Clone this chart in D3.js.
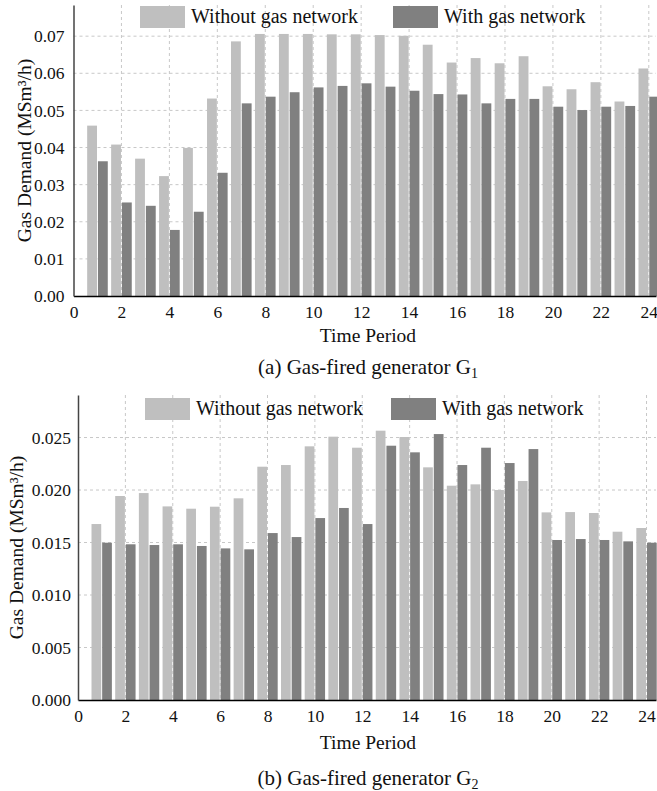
<!DOCTYPE html>
<html>
<head>
<meta charset="utf-8">
<script src="https://cdn.jsdelivr.net/npm/d3@7"></script>
<style>
  body { margin: 0; background: #fff; }
  svg { display: block; font-family: "Liberation Serif", "Times New Roman", serif; }
</style>
</head>
<body>
<div id="chart-container"></div>
<script>
// Data
const periods = [1, 2, 3, 4, 5, 6, 7, 8, 9, 10, 11, 12, 13, 14, 15, 16, 17, 18, 19, 20, 21, 22, 23, 24];
const seriesNames = ["Without gas network", "With gas network"];

const g1Without = [0.0459, 0.0408, 0.0370, 0.0323, 0.0399, 0.0532, 0.0686, 0.0706, 0.0706, 0.0706, 0.0705, 0.0705,
                   0.0703, 0.0701, 0.0677, 0.0629, 0.0641, 0.0627, 0.0646, 0.0565, 0.0557, 0.0576, 0.0524, 0.0613];
const g1With    = [0.0363, 0.0252, 0.0243, 0.0178, 0.0227, 0.0332, 0.0519, 0.0537, 0.0549, 0.0562, 0.0566, 0.0573,
                   0.0564, 0.0553, 0.0544, 0.0543, 0.0519, 0.0531, 0.0531, 0.0510, 0.0501, 0.0510, 0.0512, 0.0537];

const g2Without = [0.01676, 0.01943, 0.01971, 0.01844, 0.01822, 0.01841, 0.01921, 0.02222, 0.02238, 0.02416, 0.02508, 0.02403,
                   0.02565, 0.02505, 0.02216, 0.02041, 0.02054, 0.02000, 0.02086, 0.01787, 0.01790, 0.01781, 0.01603, 0.01638];
const g2With    = [0.01498, 0.01483, 0.01476, 0.01483, 0.01467, 0.01444, 0.01435, 0.01590, 0.01552, 0.01733, 0.01829, 0.01676,
                   0.02422, 0.02359, 0.02533, 0.02238, 0.02403, 0.02257, 0.02390, 0.01524, 0.01533, 0.01524, 0.01511, 0.01498];

const xTicks = [0, 2, 4, 6, 8, 10, 12, 14, 16, 18, 20, 22, 24];
const g1YTicks = [0, 0.01, 0.02, 0.03, 0.04, 0.05, 0.06, 0.07];
const g2YTicks = [0, 0.005, 0.010, 0.015, 0.020, 0.025];

const colors = ["#bfbfbf", "#808080"];
const serif = '"Liberation Serif", "Times New Roman", serif';

const svg = d3.select("#chart-container")
              .append("svg")
              .attr("width", 657)
              .attr("height", 791);

// draws one panel
function drawPanel(opts) {
    const { left, right, top, bottom, xMax, yMax, yTicks, yFormat, without, withNet,
            tickPad, titleX, titleY, legendY, legend1X, legend2X, captionY, label, sub } = opts;

    const x = d3.scaleLinear().domain([0, xMax]).range([left, right]);
    const y = d3.scaleLinear().domain([0, yMax]).range([bottom, top]);

    const g = svg.append("g");

    // grid
    g.selectAll(".hgrid")
     .data(yTicks.filter(d => d > 0))
     .join("line")
     .attr("x1", left).attr("x2", right)
     .attr("y1", d => y(d)).attr("y2", d => y(d))
     .attr("stroke", "#c8c8c8").attr("stroke-width", 1)
     .attr("stroke-dasharray", "3,3");

    g.selectAll(".vgrid")
     .data(xTicks.filter(d => d > 0))
     .join("line")
     .attr("x1", d => x(d)).attr("x2", d => x(d))
     .attr("y1", top).attr("y2", bottom)
     .attr("stroke", "#c8c8c8").attr("stroke-width", 1)
     .attr("stroke-dasharray", "3,3");

    // bars
    const bw = 0.41;
    g.selectAll(".bar-without")
     .data(periods)
     .join("rect")
     .attr("x", (d) => x(d - 0.02 - bw))
     .attr("width", x(bw) - x(0))
     .attr("y", (d, i) => y(without[i]))
     .attr("height", (d, i) => y(0) - y(without[i]))
     .attr("fill", colors[0]);

    g.selectAll(".bar-with")
     .data(periods)
     .join("rect")
     .attr("x", (d) => x(d + 0.02))
     .attr("width", x(bw) - x(0))
     .attr("y", (d, i) => y(withNet[i]))
     .attr("height", (d, i) => y(0) - y(withNet[i]))
     .attr("fill", colors[1]);

    // x axis
    const xAxis = g.append("g")
       .attr("transform", `translate(0, ${bottom})`)
       .call(d3.axisBottom(x).tickValues(xTicks).tickSize(0).tickPadding(10));
    xAxis.attr("font-family", serif).attr("font-size", 17.5);
    xAxis.select(".domain").attr("stroke", "#000").attr("stroke-width", 1.5);
    xAxis.selectAll("text").attr("fill", "#111");

    // y axis
    const yAxis = g.append("g")
       .attr("transform", `translate(${left}, 0)`)
       .call(d3.axisLeft(y).tickValues(yTicks).tickFormat(d3.format(yFormat)).tickSize(0).tickPadding(tickPad));
    yAxis.attr("font-family", serif).attr("font-size", 17.5);
    yAxis.select(".domain").attr("stroke", "#444").attr("stroke-width", 1.5);
    yAxis.selectAll("text").attr("fill", "#111");

    // axis titles
    g.append("text")
     .attr("x", 368)
     .attr("y", titleY)
     .attr("text-anchor", "middle")
     .style("font-size", "19.5px")
     .attr("fill", "#111")
     .text("Time Period");

    g.append("text")
     .attr("transform", `translate(${titleX}, ${(top + bottom) / 2}) rotate(-90)`)
     .attr("text-anchor", "middle")
     .style("font-size", "19.5px")
     .attr("fill", "#111")
     .text("Gas Demand (MSm³/h)");

    // legend
    [legend1X, legend2X].forEach((lx, i) => {
        g.append("rect")
         .attr("x", lx).attr("y", legendY)
         .attr("width", 45).attr("height", 22)
         .attr("fill", colors[i]);
        g.append("text")
         .attr("x", lx + 51).attr("y", legendY + 17)
         .style("font-size", "20px")
         .attr("fill", "#111")
         .text(seriesNames[i]);
    });

    // caption
    const cap = g.append("text")
     .attr("x", 368)
     .attr("y", captionY)
     .attr("text-anchor", "middle")
     .style("font-size", "21px")
     .attr("fill", "#111");
    cap.append("tspan").text(label);
    cap.append("tspan").attr("dy", "0.3em").style("font-size", "14px").text(sub);
}

drawPanel({
    left: 73.5, right: 656, top: 5, bottom: 296, xMax: 24.3, yMax: 0.0784,
    yTicks: g1YTicks, yFormat: ".2f", without: g1Without, withNet: g1With,
    tickPad: 9, titleX: 31, titleY: 342, legendY: 6, legend1X: 140, legend2X: 393,
    captionY: 374, label: "(a) Gas-fired generator G", sub: "1"
});

drawPanel({
    left: 78, right: 656, top: 395, bottom: 700, xMax: 24.4, yMax: 0.02905,
    yTicks: g2YTicks, yFormat: ".3f", without: g2Without, withNet: g2With,
    tickPad: 7, titleX: 23, titleY: 749, legendY: 398, legend1X: 145, legend2X: 391,
    captionY: 785, label: "(b) Gas-fired generator G", sub: "2"
});
</script>
</body>
</html>
